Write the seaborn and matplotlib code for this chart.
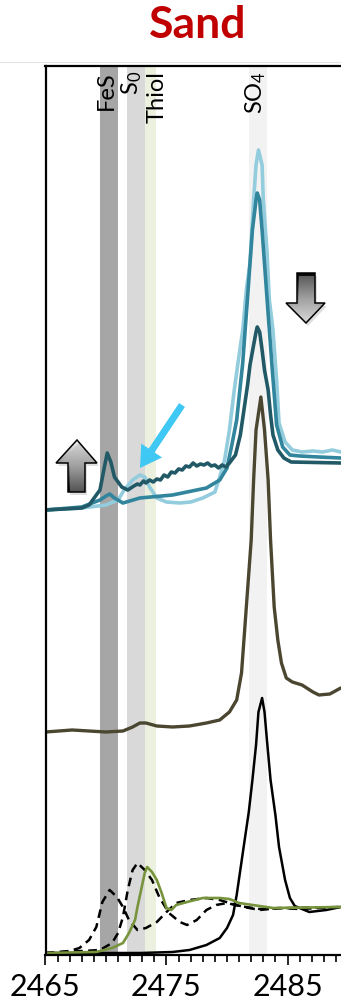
import numpy as np
import seaborn as sns
import matplotlib.pyplot as plt
from matplotlib.patches import Polygon, FancyArrow
from matplotlib.lines import Line2D
from matplotlib.ticker import MultipleLocator, FixedLocator
from matplotlib.colors import LinearSegmentedColormap
import matplotlib.transforms as mtransforms

sns.set_style("white")
plt.rcParams['font.family'] = ['Lato', 'DejaVu Sans']
plt.rcParams['mathtext.default'] = 'regular'

# ---- spectra (energy eV, normalised intensity) ----
# top group: sand samples
lb_e = [2465.0, 2468.0, 2470.0, 2471.0, 2471.5, 2472.2, 2472.8, 2473.2, 2473.6, 2474.2,
        2475.0, 2476.1, 2477.0, 2478.0, 2479.0, 2479.4, 2479.8, 2480.2, 2480.6, 2481.0,
        2481.3, 2481.6, 2481.9, 2482.2, 2482.4, 2482.6, 2482.9, 2483.0, 2483.3, 2483.5,
        2483.8, 2484.1, 2484.3, 2484.8, 2485.4, 2486.2, 2487.1, 2487.9, 2488.7, 2489.4]
lb_i = [0.00, 0.02, 0.05, 0.10, 0.20, 0.30, 0.35, 0.33, 0.23, 0.12,
        0.08, 0.07, 0.08, 0.12, 0.18, 0.33, 0.50, 0.80, 1.20, 1.55,
        1.80, 2.20, 2.47, 3.10, 3.45, 3.60, 3.45, 3.10, 2.60, 2.10,
        1.80, 1.30, 0.87, 0.68, 0.60, 0.58, 0.59, 0.58, 0.60, 0.58]

mt_e = [2465.0, 2468.0, 2469.5, 2470.0, 2470.3, 2470.7, 2471.4, 2472.8, 2475.5, 2478.3,
        2479.4, 2480.0, 2480.4, 2480.8, 2481.3, 2481.7, 2482.1, 2482.4, 2482.5, 2482.7,
        2482.9, 2483.3, 2483.7, 2484.1, 2484.6, 2485.2, 2486.0, 2487.6, 2489.4]
mt_i = [0.00, 0.03, 0.10, 0.14, 0.16, 0.12, 0.07, 0.12, 0.15, 0.22,
        0.30, 0.42, 0.65, 0.90, 1.47, 2.13, 2.80, 3.10, 3.17, 3.10,
        2.80, 2.13, 1.47, 0.85, 0.63, 0.55, 0.54, 0.53, 0.52]

dt_e = [2465.0, 2468.0, 2468.6, 2469.5, 2469.9, 2470.1, 2470.4, 2470.7, 2471.3, 2471.8,
        2472.3, 2472.6, 2472.8, 2473.1, 2473.3, 2473.6, 2473.9, 2474.2, 2474.5, 2474.8,
        2475.1, 2475.4, 2475.7, 2476.0, 2476.3, 2476.6, 2476.9, 2477.2, 2477.5, 2477.8,
        2478.1, 2478.4, 2478.7, 2479.0, 2479.3, 2479.6, 2479.9, 2480.2, 2480.7, 2481.1,
        2481.4, 2481.7, 2481.9, 2482.2, 2482.4, 2482.5, 2482.7, 2482.9, 2483.1, 2483.4,
        2483.6, 2483.8, 2484.2, 2484.7, 2485.3, 2489.4]
dt_i = [0.00, 0.02, 0.05, 0.20, 0.45, 0.57, 0.48, 0.33, 0.23, 0.20,
        0.24, 0.26, 0.25, 0.29, 0.27, 0.30, 0.28, 0.31, 0.30, 0.35,
        0.33, 0.38, 0.37, 0.41, 0.40, 0.44, 0.43, 0.47, 0.44, 0.46,
        0.45, 0.47, 0.44, 0.45, 0.42, 0.45, 0.43, 0.47, 0.55, 0.75,
        1.00, 1.25, 1.45, 1.65, 1.78, 1.83, 1.78, 1.60, 1.40, 1.20,
        0.95, 0.75, 0.60, 0.52, 0.48, 0.47]

# middle: reference sediment
br_e = [2465.0, 2467.2, 2468.6, 2470.0, 2471.4, 2472.2, 2472.8, 2473.3, 2474.2, 2475.5,
        2476.9, 2478.3, 2479.4, 2480.2, 2480.8, 2481.2, 2481.4, 2481.7, 2482.0, 2482.2,
        2482.4, 2482.8, 2483.1, 2483.4, 2483.6, 2483.9, 2484.2, 2484.5, 2484.9, 2485.4,
        2486.2, 2487.1, 2487.6, 2488.5, 2489.4]
br_i = [0.00, 0.02, 0.01, 0.00, 0.01, 0.05, 0.09, 0.09, 0.06, 0.05,
        0.06, 0.09, 0.12, 0.20, 0.32, 0.59, 0.92, 1.42, 1.92, 2.52,
        3.02, 3.35, 3.02, 2.52, 1.92, 1.25, 0.92, 0.69, 0.54, 0.50,
        0.47, 0.40, 0.37, 0.38, 0.44]

# bottom: standards
so4_e = [2465.0, 2472.8, 2475.5, 2476.9, 2478.3, 2479.4, 2480.0, 2480.5, 2480.8, 2481.1,
         2481.4, 2481.8, 2482.1, 2482.4, 2482.6, 2482.9, 2483.1, 2483.3, 2483.6, 2484.0,
         2484.3, 2484.8, 2485.2, 2485.6, 2486.8, 2488.2, 2489.4]
so4_i = [0.00, 0.00, 0.01, 0.03, 0.08, 0.15, 0.25, 0.38, 0.58, 0.83,
         1.08, 1.41, 1.73, 2.08, 2.41, 2.55, 2.41, 2.13, 1.73, 1.38,
         1.06, 0.73, 0.55, 0.47, 0.41, 0.43, 0.46]

fes_e = [2465.0, 2467.0, 2467.8, 2468.6, 2469.2, 2469.7, 2470.3, 2470.9, 2471.4, 2471.9,
         2472.6, 2473.3, 2474.2, 2475.0, 2475.8, 2476.9, 2478.3, 2479.4, 2480.2, 2481.4,
         2482.7, 2484.3, 2486.0, 2489.4]
fes_i = [0.00, 0.02, 0.05, 0.13, 0.26, 0.51, 0.63, 0.56, 0.46, 0.33,
         0.23, 0.25, 0.31, 0.41, 0.50, 0.53, 0.55, 0.53, 0.50, 0.46,
         0.43, 0.45, 0.44, 0.46]

s0_e = [2465.0, 2469.5, 2470.5, 2471.0, 2471.4, 2471.8, 2472.2, 2472.6, 2473.2, 2473.8,
        2474.4, 2475.2, 2476.1, 2476.7, 2477.5, 2478.3, 2479.1, 2480.0, 2481.0, 2482.7,
        2485.2, 2489.4]
s0_i = [0.00, 0.03, 0.10, 0.20, 0.36, 0.63, 0.83, 0.90, 0.83, 0.73,
        0.56, 0.40, 0.31, 0.28, 0.33, 0.43, 0.48, 0.50, 0.47, 0.44,
        0.45, 0.46]

thiol_e = [2465.0, 2469.2, 2470.5, 2471.4, 2471.9, 2472.4, 2472.6, 2472.9, 2473.2, 2473.4,
           2473.8, 2474.2, 2474.6, 2475.0, 2475.4, 2475.8, 2476.7, 2478.0, 2479.4, 2480.2,
           2481.0, 2483.8, 2489.4]
thiol_i = [0.00, 0.01, 0.05, 0.10, 0.20, 0.33, 0.46, 0.63, 0.80, 0.86,
           0.81, 0.73, 0.60, 0.45, 0.43, 0.48, 0.51, 0.55, 0.55, 0.54,
           0.50, 0.45, 0.46]

top_offset = 4.45
mid_offset = 2.23
bot_offset = 0.02

# reference bands (eV)
band_names = ['FeS', 'S$_0$', 'Thiol', 'SO$_4$']
band_lo = [2469.5, 2471.75, 2473.25, 2481.8]
band_hi = [2471.0, 2473.25, 2474.15, 2483.3]
band_colors = ['#a6a6a6', '#d9d9d9', '#ebf1de', '#f2f2f2']
band_label_x = [2470.05, 2472.1, 2474.25, 2482.35]

x_ticks = [2465, 2475, 2485]

# ---- figure ----
W, H = 341, 1005
fig = plt.figure(figsize=(W / 100, H / 100), dpi=100)
ax = fig.add_axes([45.5 / W, 50 / H, 1 - 45.5 / W, 889 / H])

for lo, hi, c in zip(band_lo, band_hi, band_colors):
    ax.axvspan(lo, hi, color=c, lw=0, zorder=0)

curves = [
    (lb_e, lb_i, top_offset, '#93cddd', 2.6, None),
    (mt_e, mt_i, top_offset, '#31859c', 2.6, None),
    (dt_e, dt_i, top_offset, '#215967', 2.6, None),
    (br_e, br_i, mid_offset, '#4a4630', 2.4, None),
    (so4_e, so4_i, bot_offset, 'black', 1.8, None),
    (fes_e, fes_i, bot_offset, 'black', 1.8, [3.5, 2.2]),
    (s0_e, s0_i, bot_offset, 'black', 1.8, [3.5, 2.2]),
    (thiol_e, thiol_i, bot_offset, '#77933c', 1.9, None),
]
for e, i, off, c, lw, dash in curves:
    sns.lineplot(x=e, y=np.array(i) + off, ax=ax, color=c, linewidth=lw, sort=False)
    line = ax.lines[-1]
    line.set_solid_capstyle('round')
    line.set_solid_joinstyle('round')
    if dash:
        line.set_dashes(dash)

ax.set_xlim(2465, 2465 + (W - 45.5) / 12.1)
ax.set_ylim(0, 8.89)
ax.set_yticks([])
ax.xaxis.set_major_locator(FixedLocator(x_ticks))
ax.xaxis.set_minor_locator(MultipleLocator(1))
ax.tick_params(axis='x', which='major', direction='out', length=7, width=1.2,
               labelsize=22, pad=6, color='black', labelcolor='black', bottom=True)
ax.tick_params(axis='x', which='minor', direction='out', length=5, width=1.2,
               color='black', bottom=True)
ax.set_xticklabels([str(t) for t in x_ticks])
for s in ['left', 'top', 'bottom']:
    ax.spines[s].set_color('black')
    ax.spines[s].set_linewidth(1.6)
ax.spines['right'].set_visible(False)

trans = mtransforms.blended_transform_factory(ax.transData, ax.transAxes)
for name, x in zip(band_names, band_label_x):
    ax.text(x, 0.994, name, rotation=90, ha='center', va='top', fontsize=17,
            color='black', transform=trans, zorder=5)

fig.text(198 / W, 1 - 38 / H, 'Sand', ha='center', va='baseline', color='#c00000',
         fontsize=32, fontweight='bold')
fig.add_artist(Line2D([0, 1], [1 - 62 / H] * 2, color='#e4e4e4', lw=0.8))

# ---- overlay annotations in pixel coordinates ----
ov = fig.add_axes([0, 0, 1, 1])
ov.set_xlim(0, W)
ov.set_ylim(H, 0)
ov.axis('off')

cmap = LinearSegmentedColormap.from_list('arrowgrad', ['#000000', '#8c8c8c', '#f4f4f4'])
grad = np.linspace(0, 1, 256).reshape(-1, 1)

up_pts = [(77, 440), (97, 463), (85, 463), (85, 492), (68, 492), (68, 463), (56, 463)]
down_pts = [(297, 273), (315, 273), (315, 303), (325, 303), (306, 323), (286, 303), (297, 303)]

for pts, ext, g in [(up_pts, (56, 97, 440, 492), grad[::-1]),
                    (down_pts, (286, 325, 273, 323), grad)]:
    shadow = Polygon([(x + 2, y + 3) for x, y in pts], closed=True, fc='#b8b8b8',
                     ec='none', alpha=0.45, transform=ov.transData)
    ov.add_patch(shadow)
    poly = Polygon(pts, closed=True, fc='none', ec='none', transform=ov.transData)
    ov.add_patch(poly)
    im = ov.imshow(g, extent=ext, origin='lower', cmap=cmap, aspect='auto',
                   interpolation='bilinear')
    im.set_clip_path(poly)
    ov.add_patch(Polygon(pts, closed=True, fc='none', ec='black', lw=1.1,
                         transform=ov.transData))

ov.add_patch(FancyArrow(182, 405, -42, 63, width=7, head_width=25, head_length=21,
                        length_includes_head=True, color='#40c8f4', lw=0))
ov.set_xlim(0, W)
ov.set_ylim(H, 0)

fig.savefig('out.png', dpi=100)
